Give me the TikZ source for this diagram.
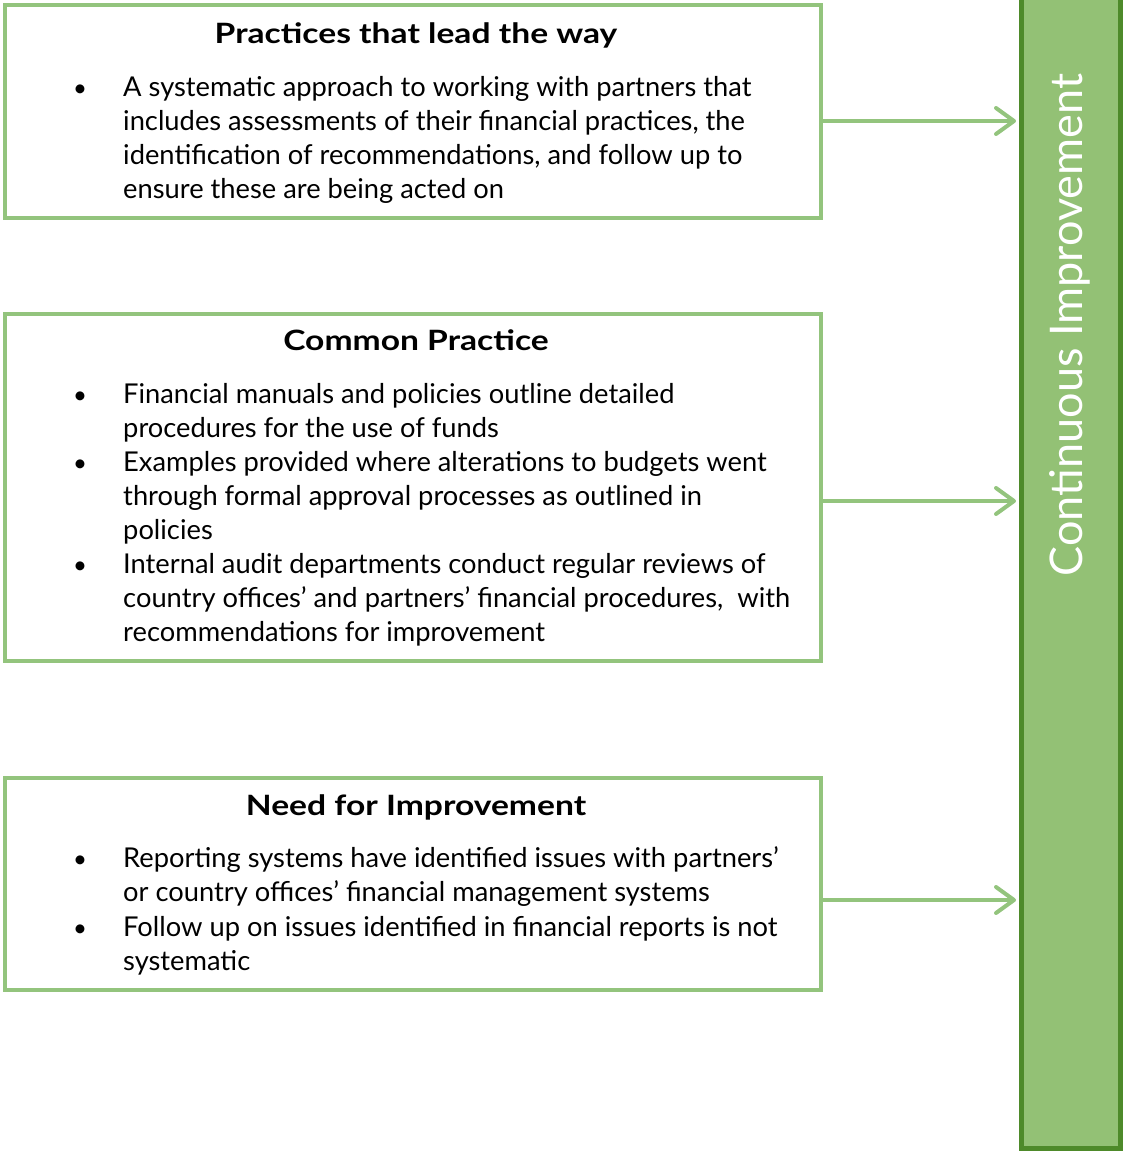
\documentclass[tikz,border=0pt]{standalone}
\usepackage{fontspec}
\setmainfont{Lato}
\newfontfamily\ttlfont{Lato}[FakeStretch=1.2]
\usetikzlibrary{arrows.meta}
\definecolor{boxgreen}{HTML}{93C47D}
\definecolor{barfill}{HTML}{93C175}
\definecolor{bardark}{HTML}{4E8A2A}
\newcommand{\lines}[1]{\begin{tabular}[t]{@{}l@{}}#1\end{tabular}}
\tikzset{
  x=1pt,y=-1pt,
  panel/.style={draw=boxgreen,line width=4pt,fill=white,inner sep=0pt,outer sep=0pt,anchor=north west,minimum width=816pt},
  ttl/.style={font=\ttlfont\fontsize{28}{34}\selectfont\bfseries,anchor=base},
  txt/.style={font=\fontsize{27.3}{34}\selectfont,anchor=base west,inner sep=0pt},
  bul/.style={font=\fontsize{24}{34}\selectfont,anchor=base,inner sep=0pt},
  conn/.style={draw=boxgreen,line width=4pt,-{Straight Barb[length=18pt,width=26pt,line cap=round,line join=round]}}
}
\begin{document}
\begin{tikzpicture}
\useasboundingbox (0,0) rectangle (1122,1151);
% bar
\node[draw=bardark,fill=barfill,line width=5pt,minimum width=99pt,minimum height=1160pt,inner sep=0pt,outer sep=0pt,anchor=south west] (bar) at (1021.5,1148.5) {};
\node[rotate=90,text=white,font=\fontsize{45}{50}\selectfont] (bt) at (1070,325) {Continuous Improvement};
% boxes
\node[panel,minimum height=212.5pt] (b1) at (5,5) {};
\node[panel,minimum height=347pt] (b2) at (5,314) {};
\node[panel,minimum height=212pt] (b3) at (5,778) {};
% box 1
\node[ttl] (t1) at (416,43) {Practices that lead the way};
\node[bul] (p1) at (80,96) {•};
\node[txt] (x1) at (123,96) {\lines{A systematic approach to working with partners that\\includes assessments of their financial practices, the\\identification of recommendations, and follow up to\\ensure these are being acted on}};
% box 2
\node[ttl] (t2) at (416,350) {Common Practice};
\node[bul] (p2a) at (80,403) {•};
\node[txt] (x2a) at (123,403) {\lines{Financial manuals and policies outline detailed\\procedures for the use of funds}};
\node[bul] (p2b) at (80,471) {•};
\node[txt] (x2b) at (123,471) {\lines{Examples provided where alterations to budgets went\\through formal approval processes as outlined in\\policies}};
\node[bul] (p2c) at (80,573) {•};
\node[txt] (x2c) at (123,573) {\lines{Internal audit departments conduct regular reviews of\\country offices’ and partners’ financial procedures,\ \ with\\recommendations for improvement}};
% box 3
\node[ttl] (t3) at (416,815) {Need for Improvement};
\node[bul] (p3a) at (80,867) {•};
\node[txt] (x3a) at (123,867) {\lines{Reporting systems have identified issues with partners’\\or country offices’ financial management systems}};
\node[bul] (p3b) at (80,936) {•};
\node[txt] (x3b) at (123,936) {\lines{Follow up on issues identified in financial reports is not\\systematic}};
% connectors
\coordinate (e1) at (1016,121);
\coordinate (e2) at (1016,501);
\coordinate (e3) at (1016,900);
\draw[conn] (b1.east |- e1) -- (e1);
\draw[conn] (b2.east |- e2) -- (e2);
\draw[conn] (b3.east |- e3) -- (e3);
\end{tikzpicture}
\end{document}
